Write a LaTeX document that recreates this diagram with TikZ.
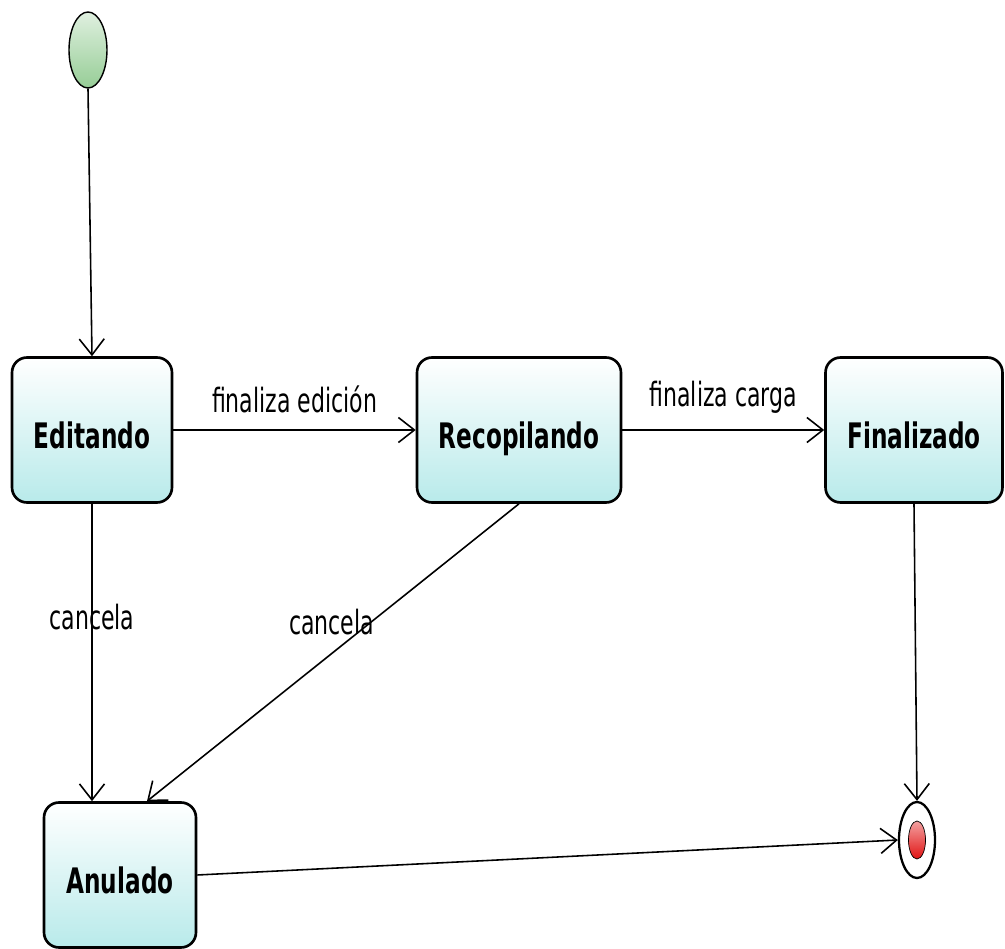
\documentclass[tikz,border=0pt]{standalone}
\usepackage{fontspec}
\setmainfont[FakeStretch=0.66]{DejaVu Sans}
\usetikzlibrary{arrows.meta,shapes.geometric,calc}
\definecolor{statebot}{RGB}{184,234,234}
\definecolor{startbot}{RGB}{150,205,150}
\definecolor{endbot}{RGB}{225,20,20}
\tikzset{
	state/.style={
		rectangle, minimum height=2.9cm, rounded corners=3mm,
		line width=1.5pt, draw=black, top color=white, bottom color=statebot,
		text height=4.1ex, text depth=0.2ex,
		font=\fontsize{20}{24}\selectfont\bfseries
	},
	%
	initial/.style={
		ellipse, minimum width=0.76cm, minimum height=1.52cm, inner sep=0pt,
		thick, draw=black, top color=startbot!30, bottom color=startbot
	},
	%
	final/.style={
		ellipse, minimum width=0.72cm, minimum height=1.52cm, inner sep=0pt,
		line width=1.3pt, draw=black, fill=white
	},
	%
	finaldot/.style={
		ellipse, minimum width=0.34cm, minimum height=0.76cm, inner sep=0pt,
		draw=black, top color=endbot!40, bottom color=endbot
	},
	%
	trans/.style={
		-{Straight Barb[length=3.2mm,width=5mm]}, line width=0.9pt
	},
	%
	lbl/.style={
		font=\fontsize{19}{22}\selectfont
	}
}

\begin{document}
\begin{tikzpicture}[x=0.02cm, y=-0.02cm]
    \useasboundingbox (0,0) rectangle (1005,949);
    \node(start)[initial] at (88,50) {};
    \node(edit)[state, minimum width=3.2cm] at (92,430) {Editando};
    \node(recop)[state, minimum width=4.08cm] at (519,430) {Recopilando};
    \node(fin)[state, minimum width=3.54cm] at (914,430) {Finalizado};
    \node(anul)[state, minimum width=3.04cm] at (120,875) {Anulado};
    \node(stop)[final] at (917,840) {};
    \node(stopdot)[finaldot] at (stop.center) {};
    \draw[trans] (start.south) -- (edit.north);
    \draw[trans] (edit) -- node[lbl, midway, above=0.2cm] {finaliza edición} (recop);
    \draw[trans] (recop) -- node[lbl, midway, above=0.2cm] {finaliza carga} (fin);
    \draw[trans] (edit.south) -- node[lbl, pos=0.38] {cancela} (edit.south |- anul.north);
    \draw[trans] (recop.south) -- node[lbl, pos=0.45, xshift=-0.4cm, yshift=0.32cm] {cancela} ($(anul.north)+(27,0)$);
    \draw[trans] (fin.south) -- (stop.north);
    \draw[trans] (anul.east) -- (stop.west);
\end{tikzpicture}
\end{document}
